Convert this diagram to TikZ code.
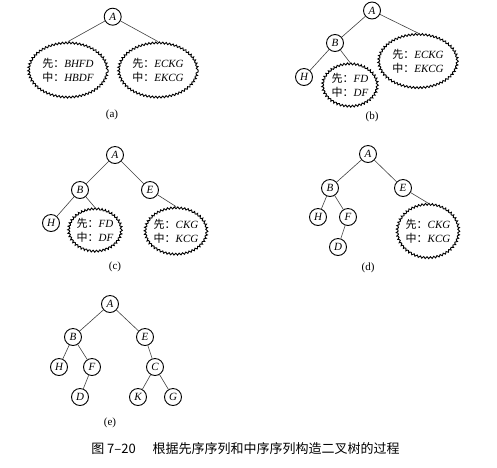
\documentclass[tikz,border=0pt]{standalone}
\usepackage{fontspec}
\setmainfont{Liberation Serif}
\newfontfamily\cjk{Noto Sans CJK SC}
\usetikzlibrary{shapes.geometric,decorations.pathmorphing}
\newcommand\xianx{{\cjk 先：}}
\newcommand\zhongx{{\cjk 中：}}
\begin{document}
\begin{tikzpicture}[x=1pt,y=-1pt,
 vtx/.style={circle,draw,line width=0.9pt,minimum size=17pt,inner sep=0pt,font=\fontsize{11}{13}\selectfont\itshape},
 bubble/.style={ellipse,draw,line width=0.9pt,inner sep=0pt,decorate,decoration={bumps,segment length=7pt,amplitude=1.8pt},align=left,font=\fontsize{11}{14}\selectfont},
 link/.style={line width=0.6pt,draw=black!75},
 sub/.style={font=\fontsize{11}{13}\selectfont}]
\useasboundingbox (0,0) rectangle (497,467);
% (a)
\node[vtx] (A1) at (112.7,16.7) {A};
\node[bubble,minimum width=80pt,minimum height=56pt] (c1L) at (68,70) {\xianx\textit{BHFD}\\\zhongx\textit{HBDF}};
\node[bubble,minimum width=80pt,minimum height=56pt] (c1R) at (158,70) {\xianx\textit{ECKG}\\\zhongx\textit{EKCG}};
\draw[link] (A1) -- (c1L.north);
\draw[link] (A1) -- (c1R.north);
\node[sub] (la) at (112,115) {(a)};
% (b)
\node[vtx] (A2) at (372,10.5) {A};
\node[vtx] (B2) at (335,43) {B};
\node[vtx] (H2) at (304,77) {H};
\node[bubble,minimum width=80pt,minimum height=55pt] (c2R) at (418,61) {\xianx\textit{ECKG}\\\zhongx\textit{EKCG}};
\node[bubble,minimum width=56pt,minimum height=44pt] (c2F) at (350,85) {\xianx\textit{FD}\\\zhongx\textit{DF}};
\draw[link] (A2) -- (B2);
\draw[link] (A2) -- (c2R.north);
\draw[link] (B2) -- (H2);
\draw[link] (B2) -- (c2F.north);
\node[sub] (lb) at (372,117) {(b)};
% (c)
\node[vtx] (A3) at (115,155) {A};
\node[vtx] (B3) at (80,190) {B};
\node[vtx] (E3) at (150,190) {E};
\node[vtx] (H3) at (51,223) {H};
\node[bubble,minimum width=54pt,minimum height=44pt] (c3F) at (95,230) {\xianx\textit{FD}\\\zhongx\textit{DF}};
\node[bubble,minimum width=56pt,minimum height=48pt] (c3C) at (176,231) {\xianx\textit{CKG}\\\zhongx\textit{KCG}};
\draw[link] (A3) -- (B3);
\draw[link] (A3) -- (E3);
\draw[link] (B3) -- (H3);
\draw[link] (B3) -- (c3F.north);
\draw[link] (E3) -- (c3C.north);
\node[sub] (lc) at (115,267) {(c)};
% (d)
\node[vtx] (A4) at (368,154) {A};
\node[vtx] (B4) at (330,188) {B};
\node[vtx] (E4) at (403,188) {E};
\node[vtx] (H4) at (318,217) {H};
\node[vtx] (F4) at (348,217) {F};
\node[vtx] (D4) at (338,247) {D};
\node[bubble,minimum width=57pt,minimum height=55pt] (c4C) at (428,231) {\xianx\textit{CKG}\\\zhongx\textit{KCG}};
\draw[link] (A4) -- (B4);
\draw[link] (A4) -- (E4);
\draw[link] (B4) -- (H4);
\draw[link] (B4) -- (F4);
\draw[link] (F4) -- (D4);
\draw[link] (E4) -- (c4C.north);
\node[sub] (ld) at (368,268) {(d)};
% (e)
\node[vtx] (A5) at (110,304) {A};
\node[vtx] (B5) at (73,337) {B};
\node[vtx] (E5) at (145,337) {E};
\node[vtx] (H5) at (59,367) {H};
\node[vtx] (F5) at (92,367) {F};
\node[vtx] (D5) at (80,397) {D};
\node[vtx] (C5) at (155,367) {C};
\node[vtx] (K5) at (138,397) {K};
\node[vtx] (G5) at (173,397) {G};
\draw[link] (A5) -- (B5);
\draw[link] (A5) -- (E5);
\draw[link] (B5) -- (H5);
\draw[link] (B5) -- (F5);
\draw[link] (F5) -- (D5);
\draw[link] (E5) -- (C5);
\draw[link] (C5) -- (K5);
\draw[link] (C5) -- (G5);
\node[sub] (le) at (110,423) {(e)};
% caption
\node[font=\cjk\fontsize{13}{15}\selectfont] (cap) at (245.5,449) {图 7–20\hspace{1.3em}根据先序序列和中序序列构造二叉树的过程};
\end{tikzpicture}
\end{document}
